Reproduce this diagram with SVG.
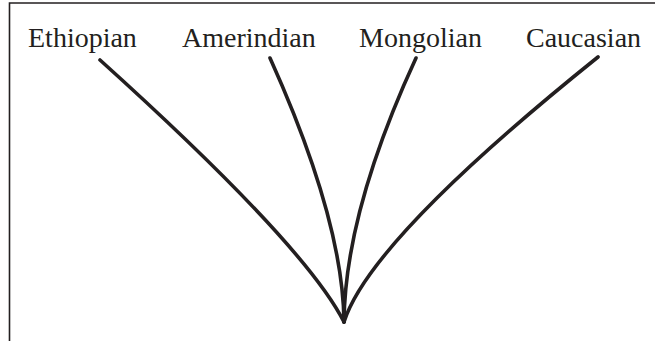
<svg xmlns="http://www.w3.org/2000/svg" width="655" height="341" viewBox="0 0 655 341">
<style>
.lbl{font-family:"Liberation Serif","Times New Roman",serif;font-size:28px;fill:#231f20}
.br{fill:none;stroke:#231f20;stroke-width:3.6;stroke-linecap:round}
.fr{fill:none;stroke:#231f20;stroke-width:1.6}
</style>
<rect width="655" height="341" fill="#fff"/>
<path class="fr" d="M9.5,341 V3 H655"/>
<g id="ethiopian"><text class="lbl" x="28" y="47">Ethiopian</text></g>
<g id="amerindian"><text class="lbl" x="182" y="47">Amerindian</text></g>
<g id="mongolian"><text class="lbl" x="359" y="47">Mongolian</text></g>
<g id="caucasian"><text class="lbl" x="526" y="47">Caucasian</text></g>
<g id="connectors">
<path class="br" d="M100,60 Q305,245 344,322"/>
<path class="br" d="M270,58 Q343,220 344,322"/>
<path class="br" d="M416,58 Q345,212 344,322"/>
<path class="br" d="M598,57 Q370,240 344,322"/>
</g>
</svg>
